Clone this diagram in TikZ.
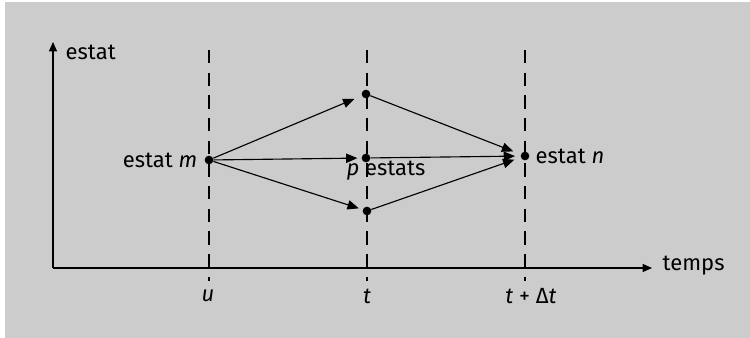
\documentclass[tikz,border=0pt]{standalone}
\usepackage{fontspec}
\setmainfont{Fira Sans}
\usetikzlibrary{arrows.meta}
\definecolor{panelgrey}{HTML}{CCCCCC}

\begin{document}
\begin{tikzpicture}[x=0.75pt,y=-0.75pt,
    font=\fontsize{16.5}{19}\selectfont,
    state/.style={circle,fill=black,inner sep=0pt,minimum size=6.5pt},
    jump/.style={-{Triangle[length=8.5pt,width=7pt]},line width=0.85pt},
    axis/.style={-{Triangle[length=7pt,width=6pt]},line width=0.85pt},
    timeline/.style={dash pattern=on 10pt off 7pt,line width=0.85pt}]
  \useasboundingbox (0,0) rectangle (750,338);
  \fill[white] (0,0) rectangle (750,338);
  \fill[panelgrey] (5,2) rectangle (750,338);
  % axes
  \coordinate (origin) at (53,268);
  \coordinate (ytop) at (53,42);
  \coordinate (xend) at (652,268);
  \draw[axis] (origin) -- (ytop);
  \draw[axis] (origin) -- (xend);
  \node[anchor=west] (ylab) at (61,52) {estat};
  \node[anchor=west] (xlab) at (658,266) {temps};
  % time instants
  \foreach \xx/\nm in {209/u,367/t,525/d}{%
    \coordinate (\nm top) at (\xx,50);
    \coordinate (\nm bot) at (\xx,281);
    \draw[timeline] (\nm top) -- (\nm bot);
  }
  \node (ulab) at (208,296) {\textit{u}};
  \node (tlab) at (367,296) {\textit{t}};
  \node (dlab) at (531,296) {\textit{t} + Δ\textit{t}};
  % states
  \node[state] (m) at (209,160) {};
  \node[state] (a) at (366,94) {};
  \node[state] (b) at (366,158) {};
  \node[state] (c) at (367,211) {};
  \node[state] (n) at (525,156) {};
  \node[anchor=east] (mlab) at (202,160) {estat \textit{m}};
  \node[anchor=west] (nlab) at (531,156) {estat \textit{n}};
  \node (plab) at (386,171) {\textit{p} estats};
  % transitions
  \draw[jump,shorten >=6pt] (m) -- (a);
  \draw[jump,shorten >=3pt] (m) -- (b);
  \draw[jump,shorten >=3pt] (m) -- (c);
  \draw[jump,shorten >=6pt] (a) -- (n);
  \draw[jump,shorten >=4pt] (b) -- (n);
  \draw[jump,shorten >=5pt] (c) -- (n);
\end{tikzpicture}
\end{document}
